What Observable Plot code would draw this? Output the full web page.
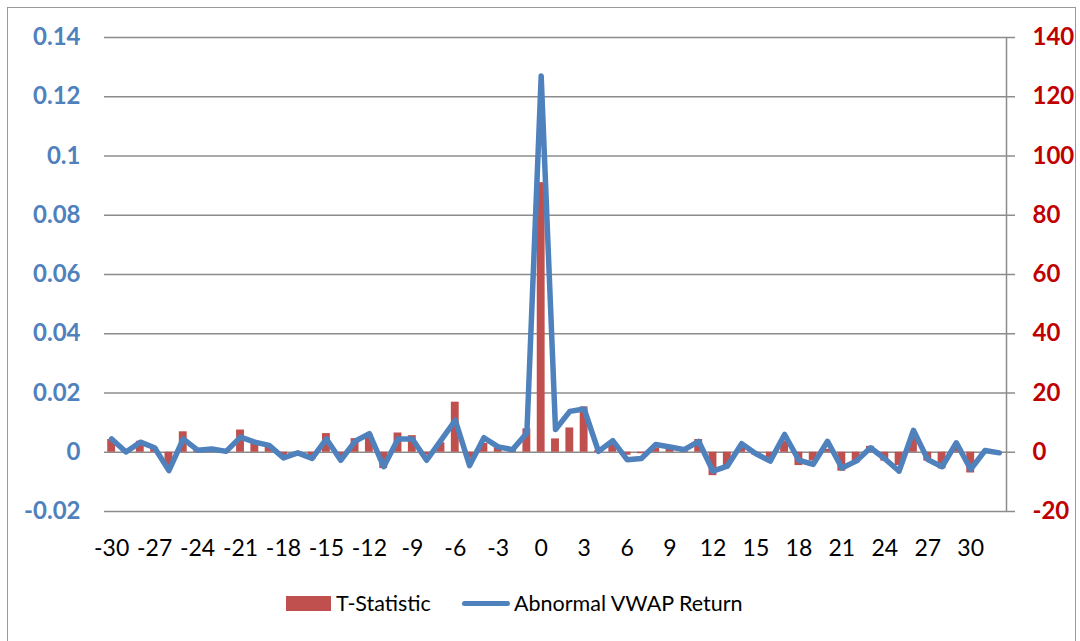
<!DOCTYPE html>
<html>
<head>
<meta charset="utf-8">
<script src="https://cdn.jsdelivr.net/npm/d3@7"></script>
<script src="https://cdn.jsdelivr.net/npm/@observablehq/plot@0.6"></script>
<style>
  html, body { margin: 0; padding: 0; background: #fff; }
  #wrap { position: relative; width: 1080px; height: 641px; overflow: hidden; font-family: Lato, "Open Sans", sans-serif; }
  #border { position: absolute; left: 7px; top: 7px; width: 1069px; height: 660px; border: 1.5px solid #999; box-sizing: border-box; }
  #chart { position: absolute; left: 0; top: 0; }
  #legend { position: absolute; left: 0; top: 588px; width: 1080px; height: 30px; }
  .sw-bar { position: absolute; left: 286px; top: 8px; width: 45px; height: 15px; background: #C0504D; }
  .sw-line { position: absolute; left: 462px; top: 13px; width: 48px; height: 5px; border-radius: 3px; background: #4F81BD; }
  .lt { position: absolute; top: 1px; font-size: 21.5px; color: #000; line-height: 28px; white-space: nowrap; }
</style>
</head>
<body>
<div id="wrap">
  <div id="border"></div>
  <div id="chart"></div>
  <div id="legend">
    <div class="sw-bar"></div><div class="lt" style="left:336px">T-Statistic</div>
    <div class="sw-line"></div><div class="lt" style="left:514px">Abnormal VWAP Return</div>
  </div>
</div>
<script>
// Event days
const days = [-30,-29,-28,-27,-26,-25,-24,-23,-22,-21,-20,-19,-18,-17,-16,-15,-14,-13,-12,-11,
  -10,-9,-8,-7,-6,-5,-4,-3,-2,-1,0,1,2,3,4,5,6,7,8,9,10,11,12,13,14,15,16,17,18,19,20,
  21,22,23,24,25,26,27,28,29,30,31,32];
// T-Statistic (right axis)
const tStat = [4.3,0.3,3.7,1.5,-4.7,6.9,0.5,0.6,0.3,7.5,3.7,2.0,-1.5,-0.3,-2.5,6.3,-1.5,4.6,6.0,-5.5,
  6.5,5.6,-1.0,3.2,16.9,-2.0,3.0,1.5,1.0,7.9,91,4.5,8.2,15.3,0.5,2.6,-1.0,-0.5,1.5,1.0,1.5,
  4.3,-7.9,-4.5,1.5,-1.0,-2.0,3.7,-4.5,-3.0,1.0,-6.4,-3.6,2.0,-3.0,-4.5,5.4,-3.0,-5.6,2.0,-7.0,0.0,0.0];
// Abnormal VWAP Return (left axis)
const vwap = [0.0045,0.0001,0.0034,0.0015,-0.0062,0.0045,0.0007,0.0011,0.0003,0.0051,0.0034,0.0023,-0.0019,-0.0002,-0.0021,
  0.0045,-0.0027,0.0037,0.0063,-0.0049,0.0045,0.0045,-0.0027,0.0040,0.0108,-0.0045,0.0049,0.0018,0.0009,0.0065,
  0.127,0.0077,0.0138,0.0146,0.0003,0.0039,-0.0025,-0.0021,0.0026,0.0018,0.0009,0.0037,-0.0064,-0.0047,0.0029,
  -0.0005,-0.0030,0.0060,-0.0027,-0.0041,0.0037,-0.0053,-0.0030,0.0015,-0.0022,-0.0064,0.0074,-0.0025,-0.0049,
  0.0032,-0.0058,0.0006,-0.0002];
// Axis ticks
const leftTicks = [-0.02,0,0.02,0.04,0.06,0.08,0.1,0.12,0.14];
const rightTicks = [-20,0,20,40,60,80,100,120,140];
const xTicks = [-30,-27,-24,-21,-18,-15,-12,-9,-6,-3,0,3,6,9,12,15,18,21,24,27,30];

const ratio = 0.14 / 140; // right-axis values mapped onto left-axis scale
const rows = days.map((d, i) => ({day: d, t: tStat[i], r: vwap[i]}));

const plot = Plot.plot({
  width: 1080,
  height: 580,
  marginLeft: 104,
  marginRight: 74,
  marginTop: 37,
  marginBottom: 69,
  style: {fontFamily: "Lato, 'Open Sans', sans-serif", background: "transparent", overflow: "visible"},
  x: {type: "band", domain: days, paddingInner: 0.45, paddingOuter: 0.225, round: false, label: null},
  y: {domain: [-0.02, 0.14], label: null},
  marks: [
    Plot.gridY(leftTicks, {stroke: "#8c8c8c", strokeOpacity: 1, strokeWidth: 1.5}),
    Plot.barY(rows, {x: "day", y: d => d.t * ratio, fill: "#C0504D"}),
    Plot.line(rows, {x: "day", y: "r", stroke: "#4F81BD", strokeWidth: 5.5, strokeLinejoin: "round", strokeLinecap: "round"}),
    Plot.frame({anchor: "right", stroke: "#8c8c8c", strokeWidth: 1.5}),
    Plot.axisY(leftTicks, {anchor: "left", tickSize: 0, tickPadding: 24, fontSize: 24, fontWeight: "bold", fill: "#4F81BD",
      tickFormat: d => String(+d.toFixed(2))}),
    Plot.axisY(rightTicks.map(v => v * ratio), {anchor: "right", tickSize: 8, tickPadding: 18, stroke: "#8c8c8c", strokeWidth: 1.5,
      fontSize: 24, fontWeight: "bold", fill: "#C00000", tickFormat: d => String(Math.round(d / ratio))}),
    Plot.axisX(xTicks, {anchor: "bottom", tickSize: 0, tickPadding: 28, fontSize: 23, fill: "#000"})
  ]
});
document.getElementById("chart").appendChild(plot);
</script>
</body>
</html>
